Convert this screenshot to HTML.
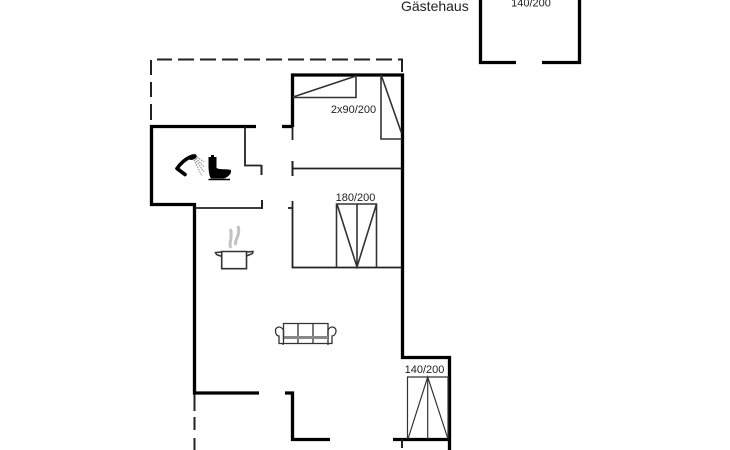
<!DOCTYPE html>
<html><head><meta charset="utf-8"><style>
html,body{margin:0;padding:0;background:#fff;width:730px;height:450px;overflow:hidden}
svg{display:block;filter:blur(0.35px)}
text{font-family:"Liberation Sans",sans-serif;fill:#222}
</style></head><body>
<svg width="730" height="450" viewBox="0 0 730 450" xmlns="http://www.w3.org/2000/svg">
<rect width="730" height="450" fill="#fff"/>
<!-- dashed -->
<g fill="none" stroke="#222" stroke-width="2">
<path d="M157 59.500H172M178 59.500H194M200 59.500H216M222 59.500H238M244 59.500H260M266 59.500H282M288 59.500H304M310 59.500H326M332 59.500H348M354 59.500H370M376 59.500H392M398 59.500H402V72"/>
<path d="M151 60V75M151 82V97M151 104V120"/>
<path d="M194.500 393V411M194.500 417V430M194.500 438V450"/>
</g>
<!-- thick walls -->
<g fill="none" stroke="#000" stroke-width="3.300">
<path d="M292.500 127V75H402.500V357.500H449.500V450"/>
<path d="M256 126.500H151.500V204.500H194.500V393H259"/>
<path d="M282 126.500H292.500"/>
<path d="M285 393H292.500V439.500H330"/>
<path d="M393 439.500H450"/>
<path d="M480.500 0V62.500H516M542 62.500H579.500V0"/>
</g>
<!-- thin walls -->
<g fill="none" stroke="#222" stroke-width="1.800">
<path d="M245 127V165.500H261.500"/>
<path d="M292.500 127V140"/>
<path d="M292.500 168.500H402"/>
<path d="M195 208H262"/>
<path d="M292.500 201V267.500H402"/>
<path d="M288 208H292.500"/>
</g>
<path d="M261.500 165V175M262 200V209M292.500 161V176M402 439V448" fill="none" stroke="#222" stroke-width="2"/>
<!-- beds -->
<g fill="none" stroke="#333" stroke-width="1.600">
<path d="M293 97.500H356V76L293 97"/>
<path d="M381 75V139H402M381.500 76L401.500 133"/>
<path d="M336.500 267V204H376.500V267M357 204V267M337 204L357 267L376.500 204"/>
<path d="M407.500 439V377H448V439M427.700 377V439M408 439L427.700 377L448 439" stroke-width="1.200"/>
</g>
<!-- shower -->
<path d="M192 156.500C186 158 180 164 177 168.500L185 174.500" fill="none" stroke="#000" stroke-width="3.600" stroke-linejoin="round" stroke-linecap="round"/>
<ellipse cx="192.500" cy="157" rx="4.500" ry="2.600" transform="rotate(-20 192.500 157)" fill="#000"/>
<g stroke="#888" stroke-width="1" stroke-dasharray="1.500 1"><path d="M194 160L202 176M195 159L204 172M196 158L204 167M197 157L204 162"/></g>
<!-- toilet -->
<path d="M208.500 157H211V155H214V157H216.500V168C220 170 226 168.500 231 170V172.500C230 175 227 177.500 224 178.500H211C209 176 208.500 170 208.500 165Z" fill="#000"/>
<path d="M208.500 179.500H230" stroke="#000" stroke-width="1.500"/>
<!-- pot -->
<path d="M221.700 251.500H246.500V268.700H221.700Z" fill="none" stroke="#333" stroke-width="1.600"/>
<path d="M222 252L215.500 252.500L216.500 254.500L222 256.500M246.500 252L253 251.500L252.500 253.500L246.500 256" fill="none" stroke="#333" stroke-width="1.500"/>
<path d="M231 248C228 243 233 240 230.500 229M236 245C233.500 240 241 236 238 226" fill="none" stroke="#c2c2c2" stroke-width="3"/>
<!-- sofa -->
<g fill="none" stroke="#333" stroke-width="1.300">
<path d="M283.500 339V323.500H328V339M298 323.500V343M313 323.500V343"/>
<path d="M283.500 330C280 325 275.500 327 275.500 331C275.500 334 277 336 279 336V343.500H332V336C334 336 336 334 336 331C336 327 331 325 328 330"/>
<path d="M283.500 330V343M328 330V343"/>
<path d="M283 343.500V345M328 343.500V345"/>
</g>
<rect x="284" y="336" width="44" height="3" fill="#888"/>
<!-- text -->
<text x="353.500" y="113" font-size="11" text-anchor="middle">2x90/200</text>
<text x="355.500" y="201" font-size="11" text-anchor="middle">180/200</text>
<text x="424.500" y="373" font-size="11" text-anchor="middle">140/200</text>
<text x="531" y="6.500" font-size="11" text-anchor="middle">140/200</text>
<text x="401" y="11" font-size="14">Gästehaus</text>
</svg>
</body></html>
